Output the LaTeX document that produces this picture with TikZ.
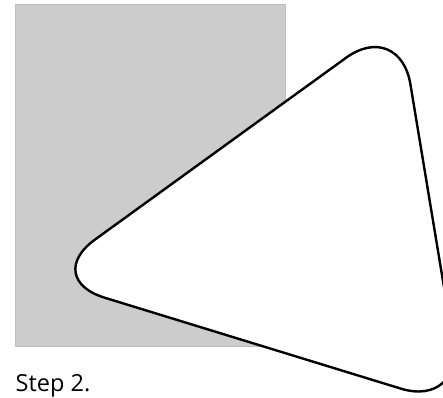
\documentclass[tikz,border=0pt]{standalone}
\usepackage{fontspec}
\setmainfont{Open Sans}
\begin{document}
\begin{tikzpicture}[x=1pt,y=-1pt,
  panel/.style={fill={rgb,255:red,204;green,204;blue,204}, draw={rgb,255:red,190;green,190;blue,190}, line width=0.6pt},
  tri/.style={fill=white, draw=black, line width=2.4pt, rounded corners=66pt, line join=round},
  caption/.style={anchor=base west, inner sep=0pt, font=\fontsize{23.5}{28}\selectfont}]
\useasboundingbox (0,0) rectangle (443,397);
\draw[panel] (15.5,4.3) rectangle (285.7,346.3);
\coordinate (top) at (399.6,19);
\coordinate (left) at (41.5,278.3);
\coordinate (bot) at (464,408);
\draw[tri] (top) -- (bot) -- (left) -- cycle;
\node[caption] (cap) at (15.5,391.8) {Step 2.};
\end{tikzpicture}
\end{document}
